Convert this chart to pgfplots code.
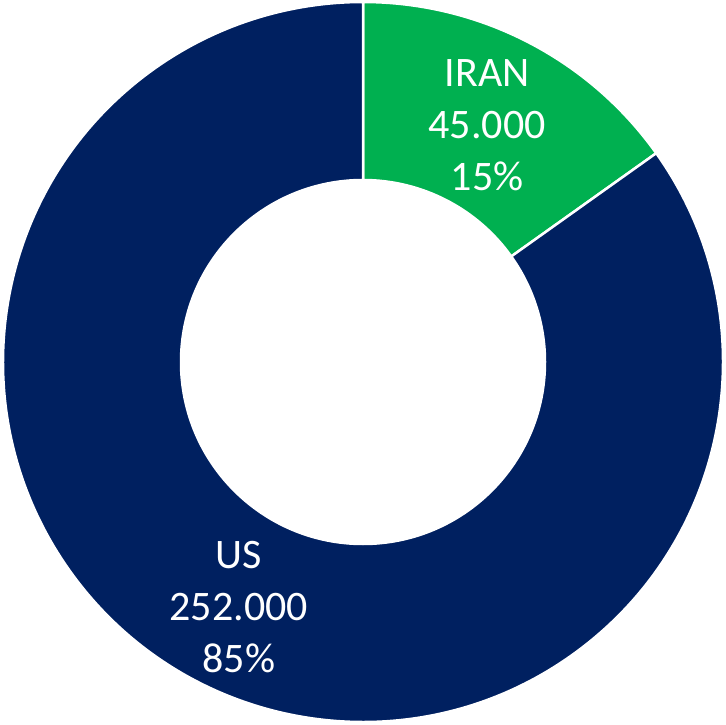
\documentclass[border=0pt]{standalone}
\usepackage{pgfplots}
\pgfplotsset{compat=1.18}
\usepackage{fontspec}
\setmainfont{Carlito}
\definecolor{irangreen}{HTML}{00B050}
\definecolor{usnavy}{HTML}{002060}

% values of the two slices
\def\vIran{45000}
\def\vUS{252000}

\begin{document}
\begin{tikzpicture}
\pgfkeys{/pgf/fpu=true, /pgf/fpu/output format=fixed}
\pgfmathsetmacro{\aIran}{360*\vIran/(\vIran+\vUS)}
\pgfkeys{/pgf/fpu=false}
\pgfmathsetmacro{\aOne}{90-\aIran}
\pgfmathsetmacro{\aEnd}{90-360}
\pgfmathsetmacro{\mIran}{90-\aIran/2}
\pgfmathsetmacro{\mUS}{(\aOne+\aEnd)/2}
\def\Ro{360}
\def\Ri{182}
\def\Rm{271}
\begin{axis}[
    x=1pt, y=1pt,
    xmin=0, xmax=726, ymin=0, ymax=724,
    hide axis, clip=false,
]
    \coordinate (ll) at (axis cs:0,0);
    \coordinate (ur) at (axis cs:726,724);
    \fill[irangreen, draw=white, line width=2.5pt]
        ([shift={(90:\Ro)}]axis cs:363,362) arc[start angle=90, end angle=\aOne, radius=\Ro]
        -- ([shift={(\aOne:\Ri)}]axis cs:363,362) arc[start angle=\aOne, end angle=90, radius=\Ri] -- cycle;
    \fill[usnavy, draw=white, line width=2.5pt]
        ([shift={(\aOne:\Ro)}]axis cs:363,362) arc[start angle=\aOne, end angle=\aEnd, radius=\Ro]
        -- ([shift={(\aEnd:\Ri)}]axis cs:363,362) arc[start angle=\aEnd, end angle=\aOne, radius=\Ri] -- cycle;
    \node[text=white, align=center, yshift=-4pt, font=\fontsize{42}{52}\selectfont]
        at ([shift={(\mIran:\Rm)}]axis cs:363,362) {IRAN\\45.000\\15\%};
    \node[text=white, align=center, yshift=-4pt, font=\fontsize{42}{52}\selectfont]
        at ([shift={(\mUS:\Rm)}]axis cs:363,362) {US\\252.000\\85\%};
\end{axis}
\pgfresetboundingbox
\path (ll) rectangle (ur);
\end{tikzpicture}
\end{document}
